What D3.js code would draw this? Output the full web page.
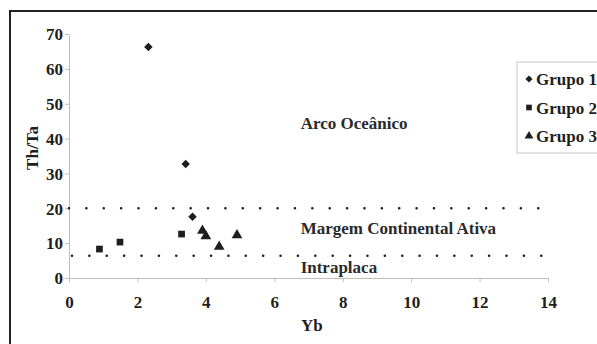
<!DOCTYPE html>
<html><head><meta charset="utf-8">
<script src="https://cdn.jsdelivr.net/npm/d3@7"></script>
<style>body{margin:0;background:#fff}svg{display:block}
text{font-family:'Liberation Serif','Times New Roman',serif;font-weight:bold;}</style>
</head><body>
<svg id="c" width="597" height="344"></svg>
<script>
const xTicks = [0,2,4,6,8,10,12,14];
const yTicks = [0,10,20,30,40,50,60,70];
const grupo1 = [[2.32,66.3],[3.41,32.7],[3.61,17.6]];
const grupo2 = [[0.89,8.3],[1.49,10.3],[3.29,12.6]];
const grupo3 = [[3.90,13.6],[4.00,12.0],[4.39,9.0],[4.91,12.3]];
const boundaries = [20, 6.4];
const seriesNames = ["Grupo 1","Grupo 2","Grupo 3"];
const fieldLabels = [
  {text:"Arco Oceânico", x:6.77, y:42.7},
  {text:"Margem Continental Ativa", x:6.77, y:12.6},
  {text:"Intraplaca", x:6.77, y:1.5}
];

const svg = d3.select("#c");
const ink = "#1e1e1e";
const FS = 17;
const x = d3.scaleLinear().domain([0,14]).range([69,548]);
const y = d3.scaleLinear().domain([0,70]).range([278,34]);

// outer frame
svg.append("rect").attr("x",10).attr("y",11).attr("width",620).attr("height",360)
  .attr("fill","none").attr("stroke","#222").attr("stroke-width",2);

// axes
const ax = svg.append("g").attr("transform",`translate(0,${y(0)})`)
  .call(d3.axisBottom(x).tickValues(xTicks).tickSize(4).tickSizeOuter(0).tickPadding(14));
const ay = svg.append("g").attr("transform",`translate(${x(0)},0)`)
  .call(d3.axisLeft(y).tickValues(yTicks).tickSize(4).tickSizeOuter(0).tickPadding(2));
[ax,ay].forEach(g=>{
  g.attr("font-family",null).attr("font-size",null);
  g.selectAll("path,line").attr("stroke","#bdbdbd").attr("stroke-width",1);
  g.selectAll("text").style("font-family","'Liberation Serif','Times New Roman',serif")
    .style("font-weight","bold").style("font-size",FS+"px").attr("fill",ink);
});
ax.selectAll("text").attr("dy","0.71em");
ay.selectAll("text").attr("dy","0.34em");

// boundary dotted lines
const offs = [0, 3];
boundaries.forEach((b,i)=>{
  svg.append("line").attr("x1",x(0)+offs[i]).attr("x2",x(13.95)).attr("y1",y(b)).attr("y2",y(b))
    .attr("stroke",ink).attr("stroke-width",2.6).attr("stroke-linecap","round")
    .attr("stroke-dasharray","0,17.38");
});

// field labels
fieldLabels.forEach(f=>{
  svg.append("text").attr("x",x(f.x)).attr("y",y(f.y)).text(f.text)
    .style("font-size",FS+"px").attr("fill","#2a2a2a");
});

// symbols
const diamond = {draw(ctx,size){const r=Math.sqrt(size/2);ctx.moveTo(0,-r);ctx.lineTo(r,0);ctx.lineTo(0,r);ctx.lineTo(-r,0);ctx.closePath();}};
const sym = [diamond, d3.symbolSquare, d3.symbolTriangle];
const sizes = [36, 45, 50];
[grupo1,grupo2,grupo3].forEach((data,i)=>{
  svg.append("g").selectAll("path").data(data).join("path")
    .attr("transform",d=>`translate(${x(d[0])},${y(d[1])})`)
    .attr("d",d3.symbol().type(sym[i]).size(sizes[i]))
    .attr("fill",ink);
});

// axis titles
svg.append("text").attr("x",x(7.1)).attr("y",331).attr("text-anchor","middle").text("Yb")
  .style("font-size",FS+"px").attr("fill",ink);
svg.append("text").attr("transform","translate(38,148) rotate(-90)").attr("text-anchor","middle").text("Th/Ta")
  .style("font-size",FS+"px").attr("fill",ink);

// legend
const lg = svg.append("g");
lg.append("rect").attr("x",517).attr("y",62).attr("width",100).attr("height",91)
  .attr("fill","#fff").attr("stroke","#c8c8c8").attr("stroke-width",1);
const lsizes = [26, 32, 34];
seriesNames.forEach((n,i)=>{
  const cy = 79 + i*28.5;
  lg.append("path").attr("transform",`translate(529,${cy})`)
    .attr("d",d3.symbol().type(sym[i]).size(lsizes[i])).attr("fill",ink);
  lg.append("text").attr("x",536).attr("y",cy+6).text(n)
    .style("font-size",FS+"px").attr("fill",ink);
});
</script>
</body></html>
